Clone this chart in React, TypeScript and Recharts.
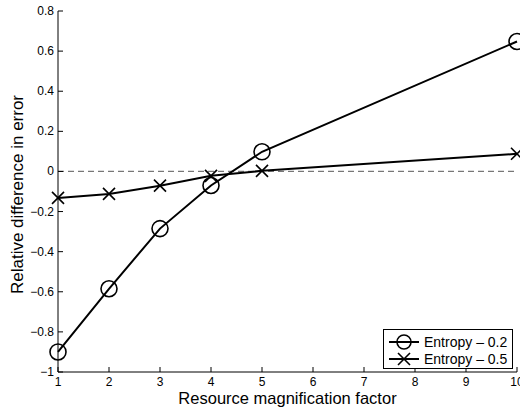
import { Line, LineChart, ReferenceLine, XAxis, YAxis } from "recharts";

const FACTORS = [1, 2, 3, 4, 5, 10];
const ENTROPY_02 = [-0.9, -0.585, -0.285, -0.07, 0.098, 0.648];
const ENTROPY_05 = [-0.132, -0.112, -0.071, -0.022, 0.003, 0.088];
const X_TICKS = [1, 2, 3, 4, 5, 6, 7, 8, 9, 10];
const Y_TICKS = [-1, -0.8, -0.6, -0.4, -0.2, 0, 0.2, 0.4, 0.6, 0.8];
const SERIES_NAMES = ["Entropy \u2013 0.2", "Entropy \u2013 0.5"];

const FONT = '"Liberation Sans", Arial, Helvetica, sans-serif';
const TICK_LEN = 5;

const data = FACTORS.map((f, i) => ({ factor: f, e02: ENTROPY_02[i], e05: ENTROPY_05[i] }));

const fmtY = (v: number) => {
  const s = Number.isInteger(v) ? String(Math.abs(v)) : Math.abs(v).toFixed(1);
  return v < 0 ? `\u2212${s}` : s;
};

function BottomTick({ x, y, payload }: any) {
  return (
    <g>
      <line x1={x} y1={y} x2={x} y2={y - TICK_LEN} stroke="#000" />
      <text x={x} y={y + 14} textAnchor="middle" fontSize={12} fontFamily={FONT} fill="#000">
        {payload.value}
      </text>
    </g>
  );
}

function TopTick({ x, y }: any) {
  return <line x1={x} y1={y} x2={x} y2={y + TICK_LEN} stroke="#000" />;
}

function LeftTick({ x, y, payload }: any) {
  return (
    <g>
      <line x1={x} y1={y} x2={x + TICK_LEN} y2={y} stroke="#000" />
      <text x={x - 4} y={y + 4} textAnchor="end" fontSize={12} fontFamily={FONT} fill="#000">
        {fmtY(payload.value)}
      </text>
    </g>
  );
}

function RightTick({ x, y }: any) {
  return <line x1={x} y1={y} x2={x - TICK_LEN} y2={y} stroke="#000" />;
}

function Circle({ cx, cy, size }: { cx: number; cy: number; size: number }) {
  return <circle cx={cx} cy={cy} r={size} fill="none" stroke="#000" strokeWidth={1.6} />;
}

function Cross({ cx, cy, size }: { cx: number; cy: number; size: number }) {
  return (
    <g stroke="#000" strokeWidth={1.6}>
      <line x1={cx - size} y1={cy - size} x2={cx + size} y2={cy + size} />
      <line x1={cx - size} y1={cy + size} x2={cx + size} y2={cy - size} />
    </g>
  );
}

function CircleDot(props: any) {
  if (props.cx == null || props.cy == null) return null;
  return <Circle cx={props.cx} cy={props.cy} size={8} />;
}

function CrossDot(props: any) {
  if (props.cx == null || props.cy == null) return null;
  return <Cross cx={props.cx} cy={props.cy} size={6} />;
}

function LegendBox() {
  const markers = [<Circle cx={15} cy={8} size={7} />, <Cross cx={15} cy={8} size={6} />];
  return (
    <div
      style={{
        position: "absolute",
        left: 383,
        top: 329,
        border: "1px solid #000",
        background: "#fff",
        width: 128,
        height: 38,
        fontFamily: FONT,
        fontSize: 14,
        color: "#000",
      }}
    >
      {SERIES_NAMES.map((name, i) => (
        <div key={name} style={{ display: "flex", alignItems: "center", height: 17, marginTop: i === 0 ? 3 : 0 }}>
          <svg width={40} height={16} style={{ marginLeft: 5 }}>
            <line x1={0} y1={8} x2={30} y2={8} stroke="#000" strokeWidth={2} />
            {markers[i]}
          </svg>
          <span style={{ marginLeft: -5, whiteSpace: "nowrap" }}>{name}</span>
        </div>
      ))}
    </div>
  );
}

export default function App() {
  return (
    <div style={{ position: "absolute", left: 0, top: 0, width: 520, height: 408, background: "#fff" }}>
      <LineChart width={520} height={408} data={data} margin={{ top: 11, right: 3, left: 0, bottom: 0 }}>
        <XAxis
          dataKey="factor"
          type="number"
          domain={[1, 10]}
          ticks={X_TICKS}
          height={36}
          tickSize={0}
          tickMargin={0}
          tickLine={false}
          axisLine={{ stroke: "#000" }}
          tick={<BottomTick />}
          interval={0}
          label={{
            value: "Resource magnification factor",
            position: "insideBottom",
            offset: 4,
            style: { fontFamily: FONT, fontSize: 16.5, fill: "#000" },
          }}
        />
        <XAxis
          xAxisId="top"
          orientation="top"
          type="number"
          domain={[1, 10]}
          ticks={X_TICKS}
          allowDataOverflow
          height={0}
          tickSize={0}
          tickLine={false}
          axisLine={{ stroke: "#000" }}
          tick={<TopTick />}
          interval={0}
        />
        <YAxis
          type="number"
          domain={[-1, 0.8]}
          ticks={Y_TICKS}
          width={58}
          tickSize={0}
          tickMargin={0}
          tickLine={false}
          axisLine={{ stroke: "#000" }}
          tick={<LeftTick />}
          interval={0}
          label={{
            value: "Relative difference in error",
            angle: -90,
            position: "insideLeft",
            offset: 17,
            dx: 0,
            dy: 3,
            style: { fontFamily: FONT, fontSize: 17, fill: "#000", textAnchor: "middle" },
          }}
        />
        <YAxis
          yAxisId="right"
          orientation="right"
          type="number"
          domain={[-1, 0.8]}
          ticks={Y_TICKS}
          allowDataOverflow
          width={0}
          tickSize={0}
          tickLine={false}
          axisLine={{ stroke: "#000" }}
          tick={<RightTick />}
          interval={0}
        />
        <ReferenceLine y={0} stroke="#777" strokeDasharray="6 4" strokeWidth={1.2} />
        <Line
          dataKey="e02"
          name={SERIES_NAMES[0]}
          stroke="#000"
          strokeWidth={2}
          dot={<CircleDot />}
          activeDot={false}
          isAnimationActive={false}
        />
        <Line
          dataKey="e05"
          name={SERIES_NAMES[1]}
          stroke="#000"
          strokeWidth={2}
          dot={<CrossDot />}
          activeDot={false}
          isAnimationActive={false}
        />
      </LineChart>
      <LegendBox />
    </div>
  );
}
